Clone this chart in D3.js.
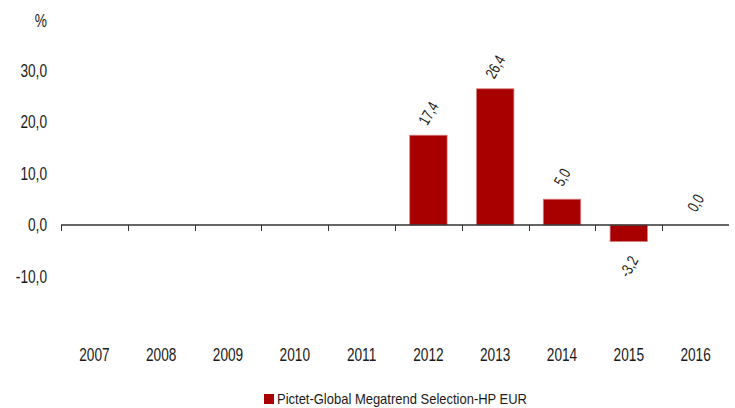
<!DOCTYPE html>
<html>
<head>
<meta charset="utf-8">
<script src="https://cdn.jsdelivr.net/npm/d3@7"></script>
<style>
  body { margin: 0; background: #fff; }
  text { font-family: "Liberation Sans", Arial, sans-serif; fill: #1a1a1a; }
</style>
</head>
<body>
<div id="chart"></div>
<script>
// data
var years = ["2007", "2008", "2009", "2010", "2011", "2012", "2013", "2014", "2015", "2016"];
var values = [null, null, null, null, null, 17.4, 26.4, 5.0, -3.2, 0.0];
var yTicks = [-10, 0, 10, 20, 30];
var seriesName = "Pictet-Global Megatrend Selection-HP EUR";

var width = 735, height = 408;
var sx = 0.76; // narrow the font to look condensed
var fmt = function(v) { return d3.format(".1f")(v).replace(".", ",").replace("\u2212", "-"); };

svg = d3.select("#chart")
        .append("svg")
        .attr("width", width)
        .attr("height", height);

var x = d3.scaleBand()
          .domain(years)
          .range([61, 729])
          .paddingInner(0.44)
          .paddingOuter(0.22);

var xb = d3.scaleBand().domain(years).range([61, 729]);

var y = d3.scaleLinear()
          .domain([-20, 40])
          .range([328.2, 18.6]);

// y labels
svg.selectAll(".ylab")
   .data(yTicks)
   .enter().append("text")
   .attr("class", "ylab")
   .attr("transform", function(d) { return "translate(47," + y(d) + ") scale(" + sx + ",1)"; })
   .attr("dy", "0.35em")
   .attr("text-anchor", "end")
   .attr("font-size", 18)
   .text(fmt);

svg.append("text")
   .attr("transform", "translate(47," + (y(40) + 2) + ") scale(" + sx + ",1)")
   .attr("dy", "0.35em")
   .attr("text-anchor", "end")
   .attr("font-size", 18)
   .text("%");

// bars
var data = years.map(function(d, i) { return {year: d, v: values[i]}; })
                .filter(function(d) { return d.v !== null; });

svg.selectAll(".bar")
   .data(data)
   .enter().append("rect")
   .attr("class", "bar")
   .attr("x", function(d) { return x(d.year); })
   .attr("width", x.bandwidth())
   .attr("y", function(d) { return y(Math.max(0, d.v)); })
   .attr("height", function(d) { return Math.abs(y(d.v) - y(0)); })
   .attr("fill", "#a80000")
   .attr("stroke", "#d88080")
   .attr("stroke-width", 0.8);

// axis line at zero
svg.append("line")
   .attr("x1", 61).attr("x2", 729)
   .attr("y1", y(0)).attr("y2", y(0))
   .attr("stroke", "#333")
   .attr("stroke-width", 1.4);

svg.selectAll(".tick")
   .data(years)
   .enter().append("line")
   .attr("x1", function(d) { return Math.round(xb(d)) + 0.5; })
   .attr("x2", function(d) { return Math.round(xb(d)) + 0.5; })
   .attr("y1", y(0))
   .attr("y2", y(0) + 6)
   .attr("stroke", "#333")
   .attr("stroke-width", 1);

// value labels
svg.selectAll(".vlab")
   .data(data)
   .enter().append("text")
   .attr("class", "vlab")
   .attr("font-size", 16)
   .attr("text-anchor", "middle")
   .attr("dy", "0.35em")
   .attr("transform", function(d) {
       var cx = x(d.year) + x.bandwidth() / 2;
       var cy = d.v < 0 ? y(d.v) + 25 : y(d.v) - 22;
       return "translate(" + cx + "," + cy + ") rotate(-60) scale(" + sx + ",1)";
   })
   .text(function(d) { return fmt(d.v); });

// x labels
svg.selectAll(".xlab")
   .data(years)
   .enter().append("text")
   .attr("class", "xlab")
   .attr("transform", function(d) { return "translate(" + (xb(d) + xb.bandwidth() / 2) + ",355) scale(" + sx + ",1)"; })
   .attr("dy", "0.35em")
   .attr("text-anchor", "middle")
   .attr("font-size", 18)
   .text(function(d) { return d; });

// legend
svg.append("rect")
   .attr("x", 264).attr("y", 394)
   .attr("width", 10).attr("height", 10)
   .attr("fill", "#a80000");

svg.append("text")
   .attr("x", 277)
   .attr("y", 399)
   .attr("dy", "0.35em")
   .attr("font-size", 15)
   .attr("textLength", 250)
   .attr("lengthAdjust", "spacingAndGlyphs")
   .text(seriesName);
</script>
</body>
</html>
